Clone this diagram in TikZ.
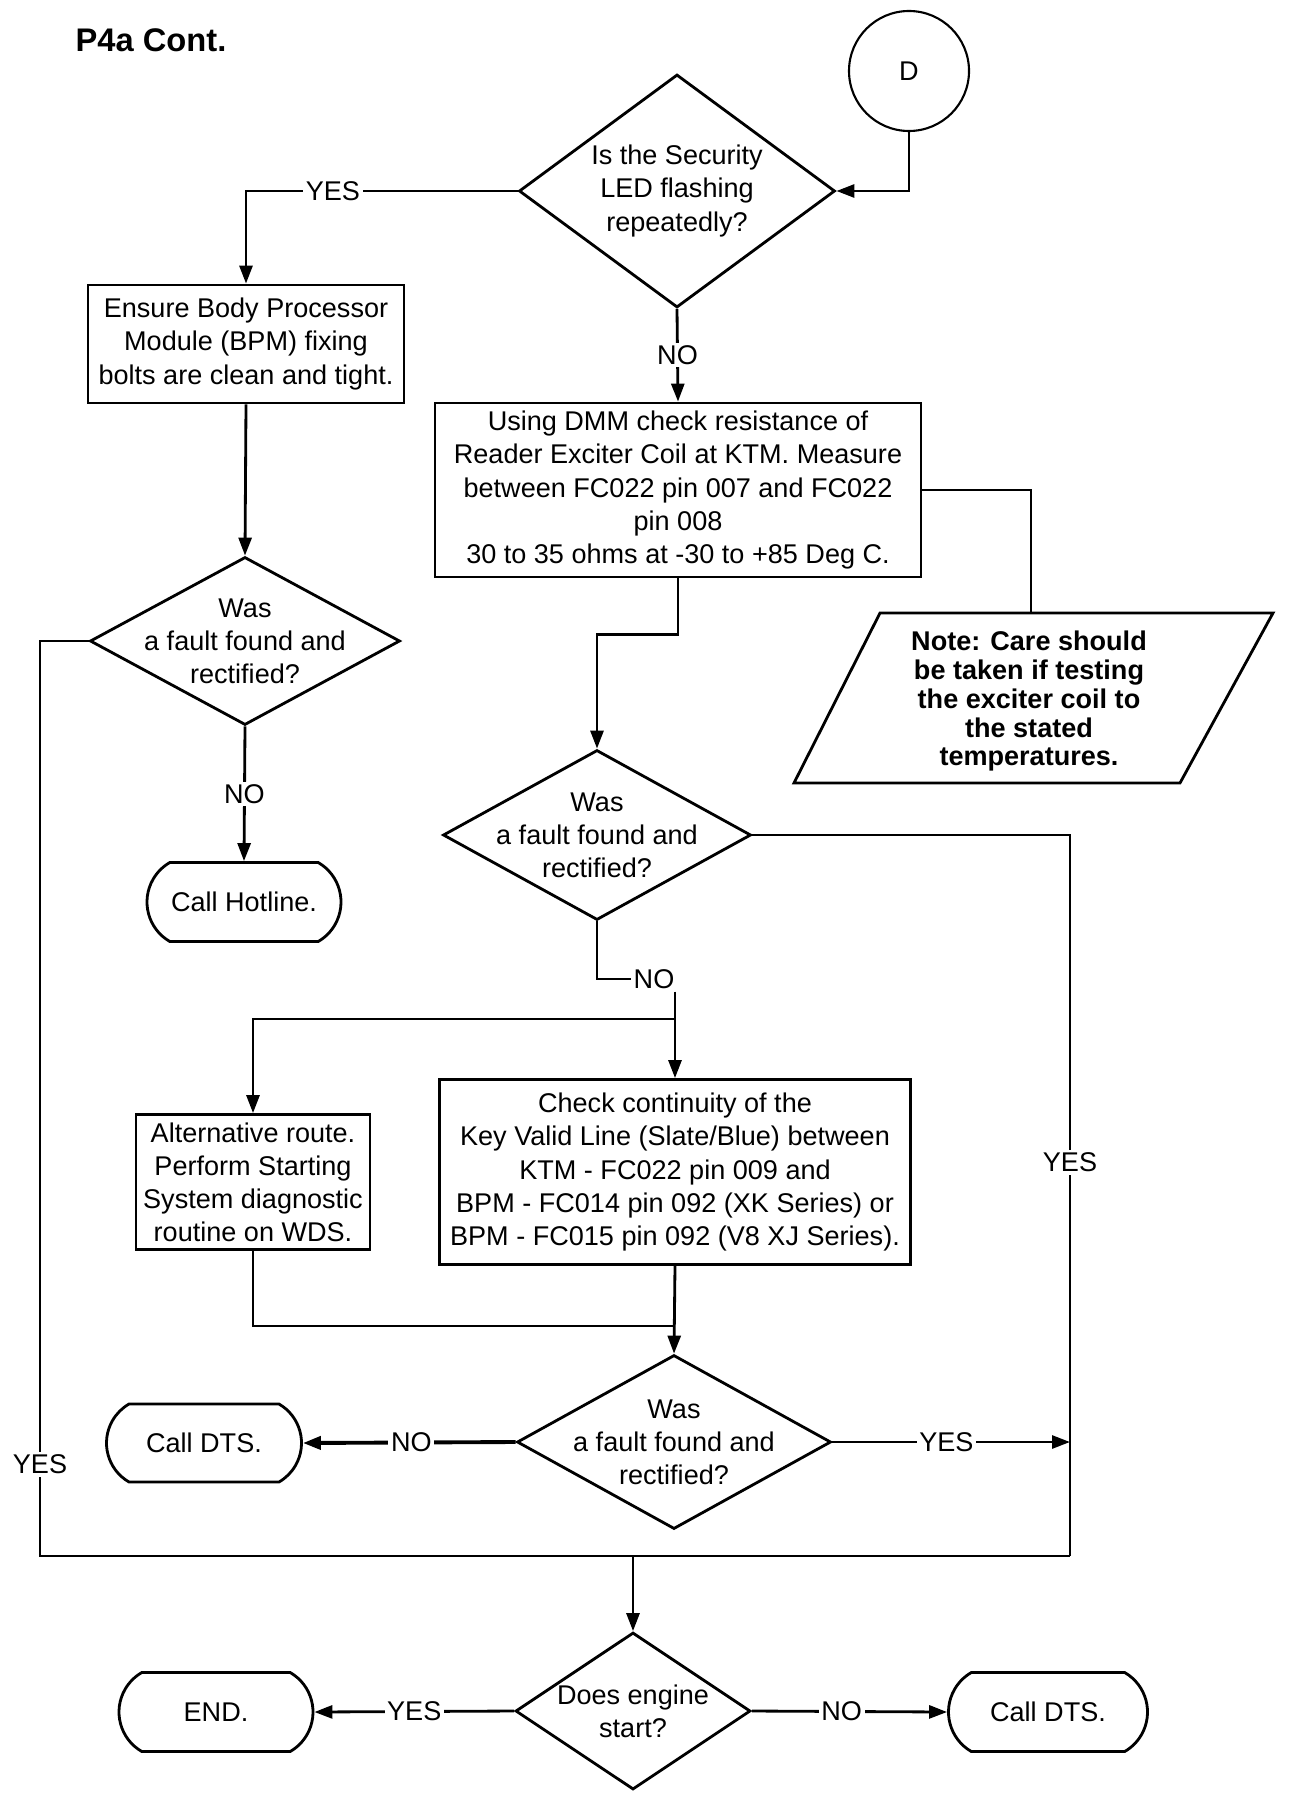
\documentclass[tikz,border=0pt]{standalone}
\usepackage{fontspec}
\setmainfont{Liberation Sans}
\usetikzlibrary{shapes.geometric,shapes.misc,arrows.meta}

\newcommand\bodyfont{\fontsize{15.4}{18.8}\selectfont}
\newcommand\notefont{\fontsize{15.4}{16.5}\selectfont\bfseries}

\tikzset{
  flow/.style={line width=1.6pt},
  arr/.style={flow, -{Triangle[length=3.6mm,width=2.6mm]}},
  box/.style={draw, flow, align=center, font=\bodyfont, inner sep=0pt},
  decision/.style={draw, flow, diamond, inner sep=0pt},
  qtext/.style={align=center, font=\bodyfont, inner sep=0pt},
  term/.style={draw, flow, rounded rectangle, rounded rectangle arc length=120, font=\bodyfont, inner sep=0pt},
  lbl/.style={fill=white, inner sep=1.5pt, font=\bodyfont}
}

\begin{document}
\begin{tikzpicture}[x=0.2mm, y=-0.2mm]
                \useasboundingbox (0,0) rectangle (1312,1798);

                \node[font=\fontsize{18.6}{22}\selectfont\bfseries] (title) at (151,40) {P4a Cont.};
                \node[draw, circle, line width=1.2pt, minimum size=24mm, inner sep=0pt, font=\bodyfont] (D) at (909,71) {D};

                \node[decision, minimum width=63.2mm, minimum height=46.6mm] (d1) at (677,191) {};
                \node[qtext] (d1t) at (d1) {Is the Security\\LED flashing\\repeatedly?};

                \node[box, minimum width=63.2mm, minimum height=23.6mm] (box1) at (246,344)
                    {Ensure Body Processor\\Module (BPM) fixing\\bolts are clean and tight.};
                \node[box, minimum width=97.2mm, minimum height=34.8mm] (box2) at (678,490)
                    {Using DMM check resistance of\\Reader Exciter Coil at KTM. Measure\\between FC022 pin 007 and FC022\\pin 008\\30 to 35 ohms at -30 to +85 Deg C.};

                \node[decision, minimum width=62mm, minimum height=33.6mm] (d2) at (245,641) {};
                \node[qtext] (d2t) at (d2) {Was\\a fault found and\\rectified?};
                \node[term, minimum width=38.8mm, minimum height=15.8mm] (hotline) at (244,902) {Call Hotline.};

                % note parallelogram
                \coordinate (nbl) at (794,783);
                \coordinate (ntl) at (880,613);
                \coordinate (ntr) at (1273,613);
                \coordinate (nbr) at (1180,783);
                \coordinate (notetop) at (1031,613);
                \draw[flow] (nbl) -- (ntl) -- (ntr) -- (nbr) -- cycle;
                \node[align=center, font=\notefont, inner sep=0pt] (note) at (1029,701)
                    {Note: Care should\\be taken if testing\\the exciter coil to\\the stated\\temperatures.};

                \node[decision, minimum width=61.6mm, minimum height=34mm] (d3) at (597,835) {};
                \node[qtext] (d3t) at (d3) {Was\\a fault found and\\rectified?};

                \node[box, minimum width=94.2mm, minimum height=37mm] (box3) at (675,1172)
                    {Check continuity of the\\Key Valid Line (Slate/Blue) between\\KTM - FC022 pin 009 and\\BPM - FC014 pin 092 (XK Series) or\\BPM - FC015 pin 092 (V8 XJ Series).};
                \node[box, minimum width=46.8mm, minimum height=27mm] (box4) at (253,1182)
                    {Alternative route.\\Perform Starting\\System diagnostic\\routine on WDS.};

                \node[decision, minimum width=62.8mm, minimum height=34.8mm] (d4) at (674,1442) {};
                \node[qtext] (d4t) at (d4) {Was\\a fault found and\\rectified?};
                \node[term, minimum width=39mm, minimum height=15.6mm] (dts1) at (204,1443) {Call DTS.};

                \node[decision, minimum width=47mm, minimum height=31.4mm] (d5) at (633,1711) {};
                \node[qtext] (d5t) at (d5) {Does engine\\start?};
                \node[term, minimum width=38.8mm, minimum height=15.8mm] (endn) at (216,1712) {END.};
                \node[term, minimum width=39.8mm, minimum height=15.8mm] (dts2) at (1048,1712) {Call DTS.};

                \coordinate (split) at (675,1019);
                \coordinate (join) at (675,1326);
                \coordinate (lc) at (40,1556);
                \coordinate (rc) at (1070,1556);
                \coordinate (merge) at (633,1556);

                \draw[arr] (D.south) |- (d1.east);
                \draw[arr] (d1.west) -| node[lbl, pos=.34] (yes1) {YES} (box1.north);
                \draw[arr] (d1.south) -- node[lbl] (no1) {NO} (box2.north);
                \draw[arr] (box1.south) -- (d2.north);
                \draw[arr] (d2.south) -- node[lbl] (no2) {NO} (hotline.north);
                \draw[flow] (box2.east) -| (notetop);
                \draw[arr] (box2.south) -- ++(0,56) -| (d3.north);

                \node[lbl] (no3) at (654,979) {NO};
                \draw[flow] (d3.south) |- (no3.west);
                \draw[flow] (split |- no3.south) -- (split);
                \draw[arr] (split) -- (box3.north);
                \draw[arr] (split) -| (box4.north);

                \draw[flow] (box4.south) |- (join);
                \draw[arr] (box3.south) -- (d4.north);
                \draw[arr, line width=2.2pt] (d4.west) -- node[lbl, pos=.49] (no4) {NO} (dts1.east);
                \draw[arr] (d4.east) -- node[lbl, pos=.48] (yes4) {YES} (d4.east -| rc);

                \draw[flow] (d2.west) -| node[lbl, pos=.95] (yes2) {YES} (lc) -- (rc);
                \draw[flow] (d3.east) -| node[lbl, pos=.727] (yes3) {YES} (rc);
                \draw[arr] (merge) -- (d5.north);

                \draw[arr] (d5.west) -- node[lbl, pos=.5] (yes5) {YES} (endn.east);
                \draw[arr] (d5.east) -- node[lbl, pos=.46] (no5) {NO} (dts2.west);
            \end{tikzpicture}
\end{document}
